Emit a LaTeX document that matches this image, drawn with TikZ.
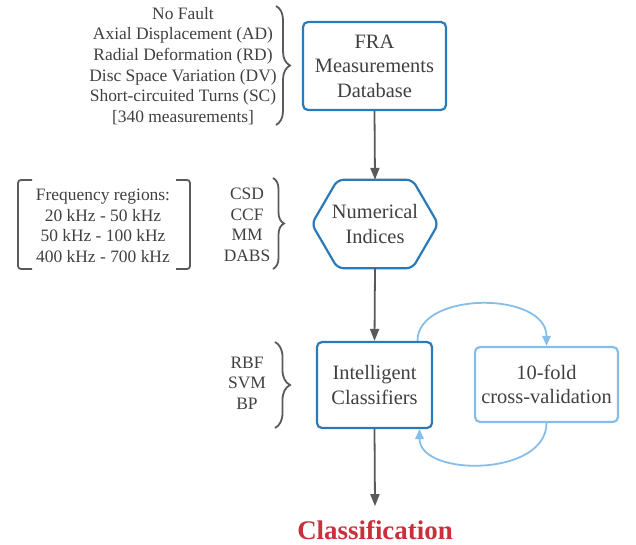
\documentclass[tikz,border=0pt]{standalone}
\usepackage{fontspec}
\setmainfont{Liberation Serif}
\usetikzlibrary{arrows.meta,decorations.pathreplacing,calc}
\definecolor{txt}{HTML}{404040}
\definecolor{dblue}{HTML}{2A7AB9}
\definecolor{lblue}{HTML}{85BEE8}
\definecolor{arr}{HTML}{5A5A5A}
\definecolor{clsred}{HTML}{C8313C}
\begin{document}
\begin{tikzpicture}[x=1bp,y=-1bp,
  box/.style={draw=dblue, line width=2.2bp, rounded corners=5bp, fill=white, align=center, text=txt, font=\fontsize{20.5}{24.5}\selectfont, inner sep=0pt},
  side/.style={align=center, text=txt, font=\fontsize{17.5}{20.7}\selectfont, inner sep=0pt},
  flow/.style={draw=arr, line width=1.8bp, -{Triangle[length=12bp,width=9bp]}},
  loopar/.style={draw=lblue, line width=1.8bp, -{Triangle[length=10bp,width=8.5bp]}},
  brc/.style={draw=arr, line width=1.8bp, decorate, decoration={brace, amplitude=#1}},
  brk/.style={draw=arr, line width=1.8bp, rounded corners=3bp}
]
\useasboundingbox (0,0) rectangle (636,545);

% nodes
\node[box, minimum width=143bp, minimum height=88bp] (fra) at (374.5,66) {FRA\\Measurements\\Database};
\node[minimum width=126bp, minimum height=88bp, inner sep=0pt, align=center, text=txt, font=\fontsize{20.5}{24.5}\selectfont] (hex) at (375,224) {Numerical\\Indices};
\draw[dblue, line width=2.2bp, rounded corners=6bp] (hex.north) -- ($(hex.north)+(37.5,0)$) -- (hex.east) -- ($(hex.south)+(37.5,0)$) -- ($(hex.south)+(-37.5,0)$) -- (hex.west) -- ($(hex.north)+(-37.5,0)$) -- cycle;
\node[box, minimum width=115bp, minimum height=86bp] (cls) at (374.5,385) {Intelligent\\Classifiers};
\node[box, draw=lblue, minimum width=143bp, minimum height=75bp] (cv) at (546.5,384.5) {10-fold\\cross-validation};
\node[text=clsred, font=\bfseries\fontsize{27}{30}\selectfont, inner xsep=0pt, inner ysep=14bp] (res) at (375,530) {Classification};

% side texts
\node[side] (faults) at (183,66) {No Fault\\Axial Displacement (AD)\\Radial Deformation (RD)\\Disc Space Variation (DV)\\Short-circuited Turns (SC)\\{[340 measurements]}};
\node[side] (freq) at (103,226) {Frequency regions:\\20 kHz - 50 kHz\\50 kHz - 100 kHz\\400 kHz - 700 kHz};
\node[side] (idx) at (247,225) {CSD\\CCF\\MM\\DABS};
\node[side] (algs) at (247,383) {RBF\\SVM\\BP};

% braces and brackets
\draw[brc=14bp] (276,6) -- (276,125);
\draw[brc=11bp] (273,178) -- (273,269);
\draw[brc=15bp] (275,342) -- (275,428);
\draw[brk] (32,180) -- (18,180) -- (18,269) -- (32,269);
\draw[brk] (176,180) -- (190,180) -- (190,269) -- (176,269);

% flow arrows
\draw[flow] (fra.south) -- (hex.north);
\draw[flow] (hex.south) -- (cls.north);
\draw[flow] (cls.south) -- (res.north);

% loop arrows
\coordinate (la) at ($(cls.north)+(43,0)$);
\coordinate (lc) at ($(cls.south)+(45,0)$);
\draw[loopar] (la) .. controls ($(la)+(0,-50)$) and ($(cv.north)+(0,-55)$) .. (cv.north);
\draw[loopar] (cv.south) .. controls ($(cv.south)+(0,54)$) and ($(lc)+(0,48)$) .. (lc);
\end{tikzpicture}
\end{document}
